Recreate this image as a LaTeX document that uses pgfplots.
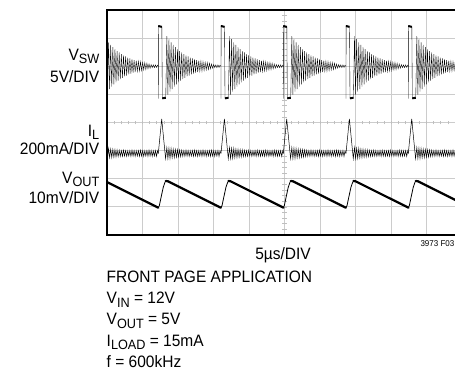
\documentclass[border=0pt]{standalone}
\usepackage{fontspec}
\setmainfont{Liberation Sans}[FakeStretch=0.94]
\usepackage{pgfplots}
\usepackage{pgfplotstable}
\pgfplotsset{compat=1.18}

\newcommand\lab{\fontsize{16.5bp}{19bp}\selectfont}
\newcommand\sub[1]{\raisebox{-3.2bp}{\fontsize{13.5bp}{14bp}\selectfont #1}}

% one switching period, t in divisions after the switch edge
\pgfplotstableread{
t y
0 6.0
0 4.85
0.004 7.45
0.10 7.40
0.113 4.85
0.21 4.88
0.24 7.07
0.27 4.99
0.30 6.96
0.33 5.10
0.36 6.85
0.39 5.19
0.42 6.76
0.45 5.28
0.48 6.68
0.51 5.36
0.54 6.61
0.57 5.43
0.60 6.54
0.63 5.49
0.66 6.49
0.69 5.54
0.72 6.43
0.75 5.59
0.78 6.39
0.81 5.64
0.84 6.35
0.87 5.67
0.90 6.31
0.93 5.71
0.96 6.28
0.99 5.74
1.02 6.25
1.05 5.77
1.08 6.22
1.11 5.79
1.14 6.20
1.17 5.82
1.20 6.18
1.23 5.83
1.26 6.16
1.29 5.85
1.32 6.14
1.35 5.87
1.38 6.13
1.41 5.88
1.44 6.11
1.47 5.91
1.50 6.08
1.53 5.93
1.56 6.06
1.59 5.95
1.62 6.05
1.65 5.95
1.68 6.05
1.71 5.96
1.74 6.04
1.761 6.0
}\vsw

\pgfplotstableread{
t y
0.0 7.43
0.10 7.40
}\vswtop

\pgfplotstableread{
t y
0.115 4.86
0.21 4.88
}\vswbot

\pgfplotstableread{
t y
0 2.90
0.096 4.13
0.205 2.72
0.24 3.10
0.27 2.72
0.30 3.08
0.33 2.73
0.36 3.07
0.39 2.75
0.42 3.05
0.45 2.76
0.48 3.04
0.51 2.77
0.54 3.03
0.57 2.78
0.60 3.02
0.63 2.79
0.66 3.01
0.69 2.80
0.72 3.00
0.75 2.80
0.78 3.01
0.81 2.81
0.84 3.00
0.87 2.80
0.90 2.99
0.93 2.81
0.96 3.00
0.99 2.80
1.02 3.01
1.05 2.81
1.08 3.00
1.11 2.80
1.14 2.99
1.17 2.81
1.20 3.00
1.23 2.80
1.26 3.01
1.29 2.81
1.32 3.00
1.35 2.80
1.38 2.99
1.41 2.81
1.44 3.00
1.47 2.80
1.50 3.01
1.53 2.81
1.56 3.00
1.59 2.80
1.62 2.99
1.65 2.81
1.68 3.00
1.71 2.80
1.74 2.99
1.761 2.90
}\il

\pgfplotstableread{
t y
0 0.97
0.03 1.05
0.08 1.35
0.14 1.70
0.19 1.88
0.23 1.93
}\voutrise

\pgfplotstableread{
t y
0.21 1.92
0.27 1.91
1.761 0.97
}\voutfall

\begin{document}
\begin{tikzpicture}
\useasboundingbox (0bp,0bp) rectangle (455bp,371bp);
\begin{axis}[
  at={(107bp,136bp)}, anchor=south west,
  width=355bp, height=225bp, scale only axis,
  xmin=0, xmax=10, ymin=0, ymax=8,
  xtick={0,...,10}, ytick={0,...,8},
  xticklabels={}, yticklabels={},
  major tick length=0pt,
  grid=major,
  grid style={black!20, line width=0.8pt},
  axis line style={line width=1.5pt},
]
\pgfplotsinvokeforeach{0.2,0.4,...,9.81}{
  \draw[black!25, line width=0.6pt] (axis cs:#1,3.93) -- (axis cs:#1,4.07);
}
\pgfplotsinvokeforeach{0.2,0.4,...,7.81}{
  \draw[black!25, line width=0.6pt] (axis cs:4.94,#1) -- (axis cs:5.06,#1);
}
\pgfplotsinvokeforeach{-0.316,1.445,3.211,4.966,6.732,8.487}{
  \addplot[black, line width=0.35pt] table[x expr=\thisrow{t}+(#1), y=y]{\vsw};
  \addplot[black, line width=2pt] table[x expr=\thisrow{t}+(#1), y=y]{\vswtop};
  \addplot[black, line width=2pt] table[x expr=\thisrow{t}+(#1), y=y]{\vswbot};
  \addplot[black, line width=0.5pt] table[x expr=\thisrow{t}+(#1), y=y]{\il};
  \addplot[black, line width=0.8pt] table[x expr=\thisrow{t}+(#1), y=y]{\voutrise};
  \addplot[black, line width=2.2pt, line cap=round] table[x expr=\thisrow{t}+(#1), y=y]{\voutfall};
}
\end{axis}
\node[anchor=base east, inner sep=0] at (99.5bp,310.3bp) {\lab V\sub{SW}};
\node[anchor=base east, inner sep=0] at (99.5bp,288.7bp) {\lab 5V/DIV};
\node[anchor=base east, inner sep=0] at (99.5bp,234.5bp) {\lab I\sub{L}};
\node[anchor=base east, inner sep=0] at (99.5bp,216bp) {\lab 200mA/DIV};
\node[anchor=base east, inner sep=0] at (99.5bp,187.7bp) {\lab V\sub{OUT}};
\node[anchor=base east, inner sep=0] at (99.5bp,167.7bp) {\lab 10mV/DIV};
\node[anchor=base, inner sep=0] at (283bp,111bp) {\lab 5µs/DIV};
\node[anchor=base east, inner sep=0] at (454.5bp,124bp) {\fontsize{8.5bp}{9bp}\selectfont 3973 F03};
\node[anchor=base west, inner sep=0] at (106.5bp,88bp) {\lab FRONT PAGE APPLICATION};
\node[anchor=base west, inner sep=0] at (106.5bp,67bp) {\lab V\sub{IN} = 12V};
\node[anchor=base west, inner sep=0] at (106.5bp,46bp) {\lab V\sub{OUT} = 5V};
\node[anchor=base west, inner sep=0] at (106.5bp,25bp) {\lab I\sub{LOAD} = 15mA};
\node[anchor=base west, inner sep=0] at (106.5bp,4bp) {\lab f = 600kHz};
\end{tikzpicture}
\end{document}
